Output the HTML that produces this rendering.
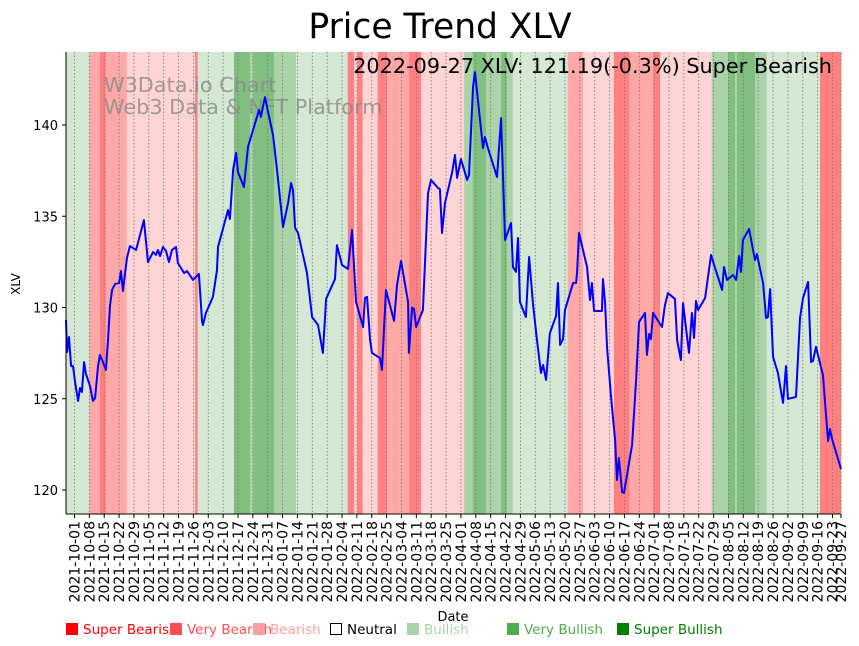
<!DOCTYPE html>
<html><head><meta charset="utf-8"><style>
body{margin:0;background:#fff;}
svg{display:block;font-family:"DejaVu Sans","Liberation Sans",sans-serif;}
</style></head><body>
<svg id="chart" width="859" height="646" viewBox="0 0 859 646">
<text x="440" y="38" font-size="34.5" text-anchor="middle">Price Trend XLV</text>
<g id="bands"></g>
<g id="grid"></g>
<text x="104" y="92" font-size="20.8" fill="#888" fill-opacity="0.8">W3Data.io Chart</text>
<text x="104" y="114" font-size="20.8" fill="#888" fill-opacity="0.8">Web3 Data &amp; NFT Platform</text>
<path id="line" fill="none" stroke="#0000ff" stroke-width="2" stroke-linejoin="round"></path>
<text x="832" y="73" font-size="20.8" text-anchor="end">2022-09-27 XLV: 121.19(-0.3%) Super Bearish</text>
<line x1="66" y1="52" x2="66" y2="514" stroke="#000" stroke-width="1"/>
<line x1="66" y1="514" x2="841" y2="514" stroke="#000" stroke-width="1"/>
<g id="yticks"></g>
<g id="xticks"></g>
<text x="20" y="284" font-size="12" text-anchor="middle" transform="rotate(-90 20 284)">XLV</text>
<text x="453" y="621" font-size="13" text-anchor="middle">Date</text>
<g id="legend"></g>
</svg>
<script>
const days = [0,0.47,1.4,2.4,3.3,4.2,5.7,6.6,7.5,8.5,9.4,11.3,12.7,13.7,15.1,16.0,17.4,18.8,19.8,20.7,21.7,23.1,25.0,25.9,26.8,28.7,30.1,33.0,36.7,38.6,41.0,42.4,43.3,44.3,45.7,47.1,48.5,49.9,51.8,52.7,55.6,57.0,59.8,62.6,64.1,64.5,65.9,69.2,71.1,71.6,76.3,77.2,78.7,80.1,81.0,83.8,85.7,87.1,90.9,91.8,93.7,97.5,99.4,101.7,102.2,104.6,106.0,106.9,107.9,109.3,113.5,115.9,118.7,121.0,122.5,126.7,127.6,130.0,132.8,134.7,136.6,139.9,140.8,141.8,143.2,144.1,147.9,148.8,150.7,154.5,155.9,157.8,161.1,161.5,163.0,163.9,164.9,168.1,170.5,171.9,175.2,176.1,177.1,178.5,181.8,183.2,184.2,186.0,188.9,189.8,191.7,192.6,196.4,197.3,198.7,203.0,204.9,206.8,209.6,210.5,211.9,212.9,213.8,216.6,218.1,219.9,221.8,223.7,224.7,226.1,227.9,230.8,231.7,232.7,234.1,235.0,238.8,240.2,240.7,241.6,245.4,246.8,247.7,248.7,252.4,252.9,253.9,254.8,256.7,258.6,259.5,260.4,261.9,262.8,266.6,268.5,269.9,272.7,273.6,274.6,275.5,276.5,280.7,282.1,283.5,286.8,287.8,289.6,290.6,293.4,294.8,295.8,296.7,297.7,301.0,303.8,305.7,309.0,309.9,311.3,314.1,315.6,317.0,317.9,318.8,321.7,324.5,325.4,328.3,329.7,330.6,331.6,333.0,335.3,337.7,339.1,340.0,343.8,345.7,347.1,349.5,350.9,351.8,353.2,356.5,358.9,359.8,360.8,365.0];
const prices = [129.32,127.56,128.38,126.79,126.79,125.97,124.88,125.59,125.37,127.01,126.36,125.70,124.88,125.04,126.79,127.40,127.01,126.58,128.22,130.08,130.96,131.29,131.34,132.00,130.90,132.71,133.37,133.15,134.79,132.49,133.04,132.88,133.15,132.82,133.32,133.10,132.49,133.15,133.32,132.44,131.89,132.00,131.51,131.84,129.21,129.04,129.70,130.58,132.05,133.32,135.34,134.85,137.53,138.47,137.42,136.60,138.79,139.34,140.82,140.44,141.53,139.45,137.53,134.96,134.41,135.73,136.82,136.44,134.36,134.08,131.89,129.48,129.04,127.51,130.47,131.56,133.42,132.33,132.11,134.25,130.30,128.93,130.52,130.58,128.22,127.51,127.23,126.58,130.96,129.26,131.23,132.55,130.30,127.51,130.00,129.92,128.93,129.86,136.27,136.99,136.55,136.49,134.08,135.73,137.37,138.36,137.10,138.14,136.99,137.26,142.08,142.90,138.74,139.34,138.74,137.15,140.38,133.70,134.63,132.22,131.95,133.81,130.30,129.48,132.77,130.25,128.22,126.41,126.85,126.03,128.60,129.53,131.34,127.95,128.27,129.86,131.34,131.34,131.89,134.08,132.22,130.41,131.34,129.81,129.81,131.56,130.25,127.84,125.10,122.74,120.55,121.75,119.89,119.84,122.47,126.03,129.21,129.70,127.40,128.55,128.27,129.70,128.93,130.14,130.79,130.47,128.22,127.12,130.25,127.51,129.70,128.33,130.36,129.86,130.52,132.88,132.16,130.96,132.22,131.51,131.78,131.51,132.82,131.95,133.70,134.30,132.60,132.93,131.34,129.42,129.48,131.01,127.29,126.41,124.77,126.79,124.99,125.10,129.42,130.52,131.40,127.01,127.07,127.84,126.30,122.68,123.34,122.79,121.15];
const bandStarts = [0,11,16,18.7,28.6,60.8,62,79.1,86.7,88.2,98,108.3,132.7,135.7,137.1,139.7,146.8,151.1,161.6,167.2,187.5,191.6,197.8,204.9,207.6,210.4,236.3,243.5,258.1,265.3,276.6,279.8,304.1,311.8,315.1,316,324.5,330,355.1];
const bandEnds = [11,16,18.7,28.6,60.8,62,79.1,86.7,88.2,98,108.3,132.7,135.7,137.1,139.7,146.8,151.1,161.6,167.2,187.5,191.6,197.8,204.9,207.6,210.4,236.3,243.5,258.1,265.3,276.6,279.8,304.1,311.8,315.1,316,324.5,330,355.1,365];
const bandRegimes = [1,-2,-3,-2,-1,-3,1,3,2,3,2,1,-3,-1,-3,-1,-3,-2,-3,-1,2,3,2,3,2,1,-2,-1,-3,-2,-3,-1,2,3,2,3,2,1,-3];
const yTicks = [120,125,130,135,140];
const legendLabels = ["Super Bearish","Very Bearish","Bearish","Neutral","Bullish","Very Bullish","Super Bullish"];

const NS="http://www.w3.org/2000/svg";
const X0=66,X1=841,Y0=52,Y1=514,DSPAN=365;
const startDate=Date.UTC(2021,8,27);
function xs(d){return X0+d*(X1-X0)/DSPAN;}
function ys(p){return 490-(p-120)*18.25;}
function mk(tag,attrs,parent){const e=document.createElementNS(NS,tag);for(const k in attrs)e.setAttribute(k,attrs[k]);parent.appendChild(e);return e;}
const regimeColor={"-3":"#ff8080","-2":"#ffa8a8","-1":"#ffd4d4","0":"#ffffff","1":"#d5e8d4","2":"#a9d4a8","3":"#80bf80"};

const bandsG=document.getElementById('bands');
for(let i=0;i<bandStarts.length;i++){
  const r=mk('rect',{x:xs(bandStarts[i]),y:Y0,width:xs(bandEnds[i])-xs(bandStarts[i])+0.3,height:Y1-Y0,fill:regimeColor[bandRegimes[i]]},bandsG);
  
  
}

const tickDays=[];
for(let d=4;d<=361;d+=7)tickDays.push(d);
tickDays.push(365);
const grid=document.getElementById('grid'),xt=document.getElementById('xticks');
tickDays.forEach(d=>{
  const x=xs(d);
  const gl=mk('line',{x1:x,y1:Y0,x2:x,y2:Y1,stroke:'#777','stroke-width':0.8,'stroke-dasharray':'1.5,2'},grid);
  
  
  mk('line',{x1:x,y1:Y1,x2:x,y2:Y1+4,stroke:'#000'},xt);
  const dt=new Date(startDate+d*86400000);
  const lab=dt.toISOString().slice(0,10);
  const t=mk('text',{x:x+5,y:Y1+7,'font-size':14,'text-anchor':'end',transform:`rotate(-90 ${x+5} ${Y1+7})`},xt);
  t.textContent=lab;
  
  
});

const yt=document.getElementById('yticks');
yTicks.forEach(v=>{
  const y=ys(v);
  mk('line',{x1:X0-4,y1:y,x2:X0,y2:y,stroke:'#000'},yt);
  const t=mk('text',{x:X0-8,y:y+5,'font-size':13,'text-anchor':'end'},yt);
  t.textContent=v;
  
  
});

let dstr='';
for(let i=0;i<days.length;i++)dstr+=(i?'L':'M')+xs(days[i]).toFixed(2)+' '+ys(prices[i]).toFixed(2);
document.getElementById('line').setAttribute('d',dstr);

const lg=document.getElementById('legend');
const legX=[66,170,253,330,407,507,617];
const legCol=["#ff0000","#ff5050","#ffa0a0","#000000","#a8d5a8","#50aa50","#008000"];
legendLabels.forEach((l,i)=>{
  const g=mk('g',{},lg);
  
  
  if(i===3) mk('rect',{x:legX[i]+0.5,y:623.5,width:11,height:11,fill:'#fff',stroke:'#000'},g);
  else mk('rect',{x:legX[i],y:623,width:12,height:12,fill:legCol[i]},g);
  const t=mk('text',{x:legX[i]+17,y:634,'font-size':13.5,fill:legCol[i]},g);
  t.textContent=l;
});
</script>
</body></html>
